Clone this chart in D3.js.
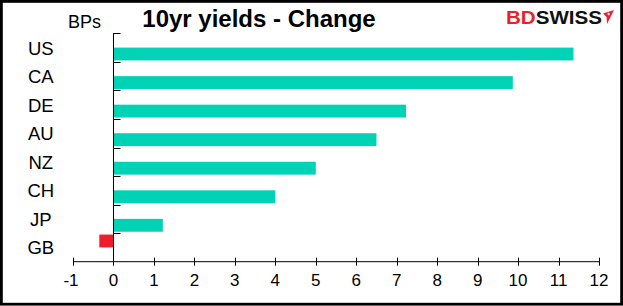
<!DOCTYPE html>
<html>
<head>
<meta charset="utf-8">
<script src="https://cdn.jsdelivr.net/npm/d3@7"></script>
<style>
  html, body { margin: 0; padding: 0; background: #fff; }
  svg { display: block; font-family: "Liberation Sans", Arial, sans-serif; }
</style>
</head>
<body>
<script>
// ---- data ----
const categories = ["US", "CA", "DE", "AU", "NZ", "CH", "JP", "GB"];
const values = [11.37, 9.87, 7.23, 6.5, 5.0, 4.0, 1.22, -0.35];
const xTicks = [-1, 0, 1, 2, 3, 4, 5, 6, 7, 8, 9, 10, 11, 12];
const titleText = "10yr yields - Change";
const unitText = "BPs";

const W = 623, H = 306;
const svg = d3.select("body").append("svg").attr("width", W).attr("height", H);

// background + frame
svg.append("rect").attr("x", 0).attr("y", 0).attr("width", W).attr("height", H).attr("fill", "#fff");
svg.append("rect").attr("x", 1.4).attr("y", 1.4).attr("width", W - 2.8).attr("height", H - 3.2)
  .attr("fill", "none").attr("stroke", "#000").attr("stroke-width", 2.8);

const x = d3.scaleLinear().domain([-1, 12]).range([73, 599]);
const y = d3.scaleBand().domain(categories).range([33.3, 261.7]).padding(0);
const slot = d3.scaleBand().domain(["neg", "pos"]).range([0, y.bandwidth()]).paddingInner(0).paddingOuter(0.11);

const teal = "#00D3B5", red = "#EE1F2A";

// bars
svg.append("g").selectAll("rect").data(categories.map((c, i) => ({ c, v: values[i] })))
  .join("rect")
  .attr("x", d => x(Math.min(0, d.v)))
  .attr("width", d => Math.abs(x(d.v) - x(0)))
  .attr("y", d => y(d.c) + slot(d.v < 0 ? "neg" : "pos"))
  .attr("height", slot.bandwidth())
  .attr("fill", d => d.v < 0 ? red : teal);

// x axis
const xAxis = svg.append("g").attr("transform", "translate(0,261.7)");
xAxis.append("line").attr("x1", x(-1)).attr("x2", x(12)).attr("stroke", "#000").attr("stroke-width", 1);
xAxis.selectAll("line.t").data(xTicks).join("line").attr("class", "t")
  .attr("x1", d => Math.round(x(d)) + 0.5).attr("x2", d => Math.round(x(d)) + 0.5)
  .attr("y1", -4).attr("y2", 4).attr("stroke", "#000").attr("stroke-width", 1);
xAxis.selectAll("text").data(xTicks).join("text")
  .attr("x", d => x(d) + (d < 0 ? -2 : 0)).attr("y", 24.5)
  .attr("text-anchor", "middle").attr("font-size", 17).attr("fill", "#000")
  .text(d => d);

// y axis
const x0 = Math.round(x(0)) + 0.5;
const yAxis = svg.append("g");
yAxis.append("line").attr("x1", x0).attr("x2", x0).attr("y1", 33.3).attr("y2", 261.7)
  .attr("stroke", "#000").attr("stroke-width", 1);
yAxis.selectAll("line.t").data(categories).join("line").attr("class", "t")
  .attr("x1", x0).attr("x2", x0 + 7)
  .attr("y1", d => Math.round(y(d)) + 0.5).attr("y2", d => Math.round(y(d)) + 0.5)
  .attr("stroke", "#000").attr("stroke-width", 1);
yAxis.selectAll("text").data(categories).join("text")
  .attr("x", 40.8).attr("y", d => y(d) + y.bandwidth() / 2 + 7)
  .attr("text-anchor", "middle").attr("font-size", 18.5).attr("fill", "#000")
  .text(d => d);

// title + unit
svg.append("text").attr("x", 259).attr("y", 27).attr("text-anchor", "middle")
  .attr("font-size", 24).attr("font-weight", "bold").attr("fill", "#000").text(titleText);
svg.append("text").attr("x", 68).attr("y", 28).attr("font-size", 18).attr("fill", "#000").text(unitText);

// logo
const logo = svg.append("text").attr("x", 506).attr("y", 24).attr("font-size", 18)
  .attr("font-weight", "bold").attr("textLength", 96).attr("lengthAdjust", "spacingAndGlyphs");
logo.append("tspan").attr("fill", red).text("BD");
logo.append("tspan").attr("fill", "#111").text("SWISS");
svg.append("path").attr("d", "M603,13.5 L614,10 L607,24 L606.6,17 Z").attr("fill", red);
svg.append("path").attr("d", "M607.4,14 h2.6 M608.7,12.7 v2.6").attr("stroke", "#fff").attr("stroke-width", 1);
</script>
</body>
</html>
